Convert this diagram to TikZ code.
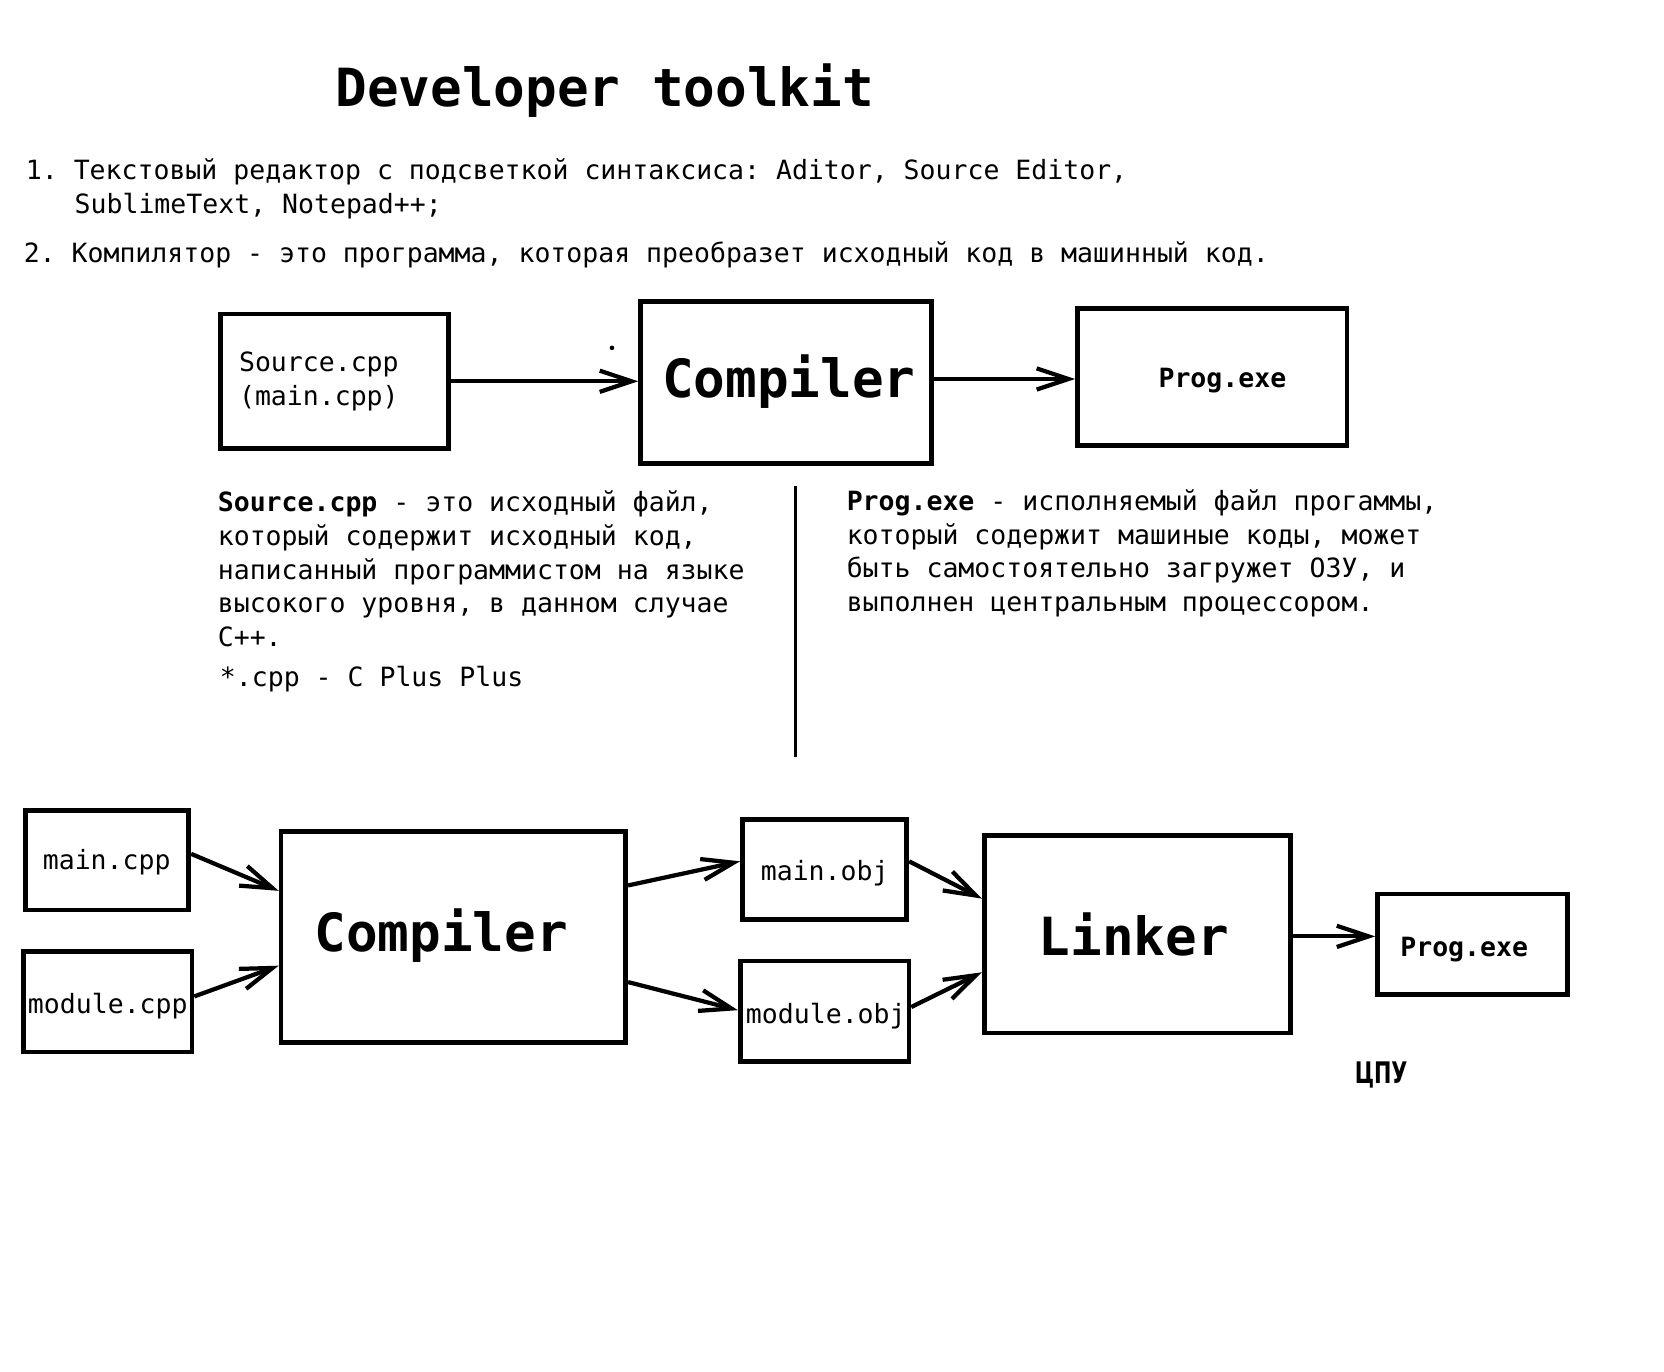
\documentclass[tikz,border=0pt]{standalone}
\usepackage{fontspec}
\setmonofont{DejaVu Sans Mono}
\newfontfamily\cpufont[FakeStretch=0.7]{DejaVu Sans}
\usetikzlibrary{arrows.meta,calc,fit}
\tikzset{
  txt/.style={font=\fontsize{12.5pt}{16pt}\selectfont\ttfamily, inner sep=0pt, anchor=base west},
  btxt/.style={font=\fontsize{12.5pt}{16pt}\selectfont\ttfamily\bfseries, inner sep=0pt, anchor=base west},
  big/.style={font=\fontsize{24.8pt}{28pt}\selectfont\ttfamily\bfseries, inner sep=0pt, anchor=base west},
  box/.style={draw, line width=2.2pt, inner sep=0pt},
  arr/.style={line width=2pt, -{Straight Barb[length=15pt,width=10pt]}},
}
\begin{document}
\begin{tikzpicture}[x=0.5pt,y=-0.5pt]
\fill[white] (0,0) rectangle (1569,1293.5);
\useasboundingbox (0,0) rectangle (1569,1293.5);

% title and list
\node[big] (title) at (316,100) {Developer toolkit};
\node[txt] (l1) at (24,169.5) {1. Текстовый редактор с подсветкой синтаксиса: Aditor, Source Editor,};
\node[txt] (l1b) at (70,201.5) {SublimeText, Notepad++;};
\node[txt] (l2) at (22,247.5) {2. Компилятор - это программа, которая преобразет исходный код в машинный код.};

% top row
\node[box, fit={(208,296) (423,423)}] (src) {};
\node[txt] (srct1) at (225,350.5) {Source.cpp};
\node[txt] (srct2) at (225,382.5) {(main.cpp)};
\node[box, fit={(604,284) (878,437)}] (comp) {};
\node[big] (compt) at (624,375) {Compiler};
\node[box, fit={(1016,291) (1270,420)}] (prog) {};
\node[btxt] (progt) at (1092,365.5) {Prog.exe};
\fill (577,328) circle (2.2);
\coordinate (ca) at ($(comp.north east)!0.48!(comp.south east)$);
\draw[arr] (src.east) -- (src.east -| comp.west);
\draw[arr] (ca) -- (ca -| prog.west);

% descriptions
\node[txt] (d1) at (205,482) {\textbf{Source.cpp} - это исходный файл,};
\node[txt] (d2) at (205,514) {который содержит исходный код,};
\node[txt] (d3) at (205,546) {написанный программистом на языке};
\node[txt] (d4) at (205,578) {высокого уровня, в данном случае};
\node[txt] (d5) at (205,610) {C++.};
\node[txt] (d6) at (207,647) {*.cpp - C Plus Plus};
\coordinate (vtop) at (750,458);
\coordinate (vbot) at (750,714);
\draw[line width=1.8pt] (vtop) -- (vbot);
\node[txt] (e1) at (798,481) {\textbf{Prog.exe} - исполняемый файл прогаммы,};
\node[txt] (e2) at (798,513) {который содержит машиные коды, может};
\node[txt] (e3) at (798,545) {быть самостоятельно загружет ОЗУ, и};
\node[txt] (e4) at (798,577) {выполнен центральным процессором.};

% bottom row
\node[box, fit={(24,764) (178,858)}] (mcpp) {};
\node[txt] (mcppt) at (40,820) {main.cpp};
\node[box, fit={(22,897) (181,992)}] (modcpp) {};
\node[txt] (modcppt) at (26,956) {module.cpp};
\node[box, fit={(265,784) (590,983)}] (comp2) {};
\node[big] (comp2t) at (296,897) {Compiler};
\node[box, fit={(700,773) (855,867)}] (mobj) {};
\node[txt] (mobjt) at (717,830) {main.obj};
\node[box, fit={(698,906) (857,1001)}] (modobj) {};
\node[txt] (modobjt) at (703,965) {module.obj};
\node[box, fit={(928,788) (1217,974)}] (lnk) {};
\node[big] (lnkt) at (979,901) {Linker};
\node[box, fit={(1299,843) (1478,938)}] (prog2) {};
\node[btxt] (prog2t) at (1320,902) {Prog.exe};
\node[font=\fontsize{14pt}{16pt}\selectfont\cpufont\bfseries, inner sep=0pt, anchor=base west] (cpu) at (1277,1022) {ЦПУ};

\coordinate (la) at ($(lnk.north east)!0.51!(lnk.south east)$);
\draw[arr] ($(mcpp.north east)!0.44!(mcpp.south east)$) -- ($(comp2.north west)!0.286!(comp2.south west)$);
\draw[arr] ($(modcpp.north east)!0.45!(modcpp.south east)$) -- ($(comp2.north west)!0.633!(comp2.south west)$);
\draw[arr] ($(comp2.north east)!0.261!(comp2.south east)$) -- ($(mobj.north west)!0.42!(mobj.south west)$);
\draw[arr] ($(comp2.north east)!0.709!(comp2.south east)$) -- ($(modobj.north west)!0.49!(modobj.south west)$);
\draw[arr] ($(mobj.north east)!0.42!(mobj.south east)$) -- ($(lnk.north west)!0.323!(lnk.south west)$);
\draw[arr] ($(modobj.north east)!0.46!(modobj.south east)$) -- ($(lnk.north west)!0.688!(lnk.south west)$);
\draw[arr] (la) -- (la -| prog2.west);
\end{tikzpicture}
\end{document}
